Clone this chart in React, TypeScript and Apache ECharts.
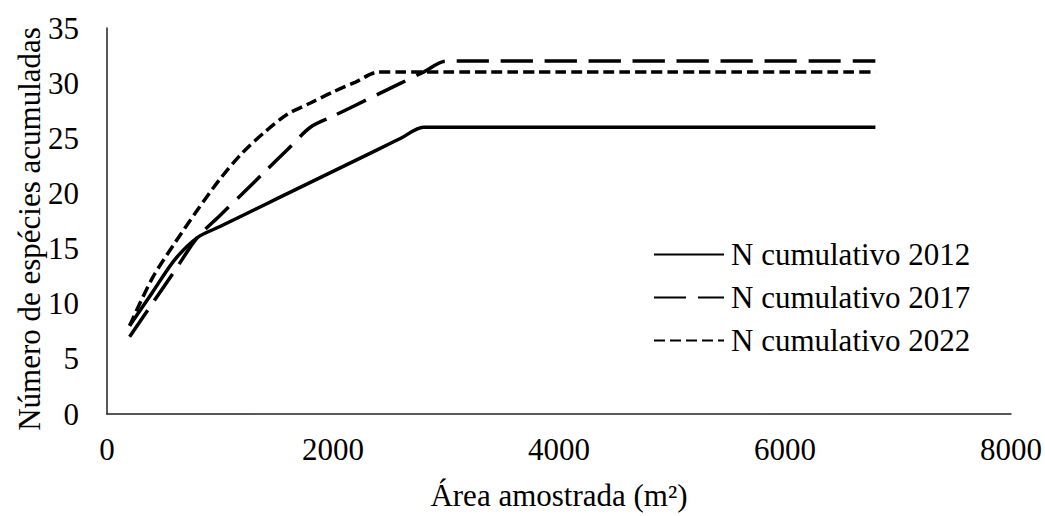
import React, { useEffect, useRef } from "react";
import * as echarts from "echarts";

const areas = [
  200, 400, 600, 800, 1000, 1200, 1400, 1600, 1800, 2000, 2200, 2400, 2600, 2800, 3000, 3200, 3400,
  3600, 3800, 4000, 4200, 4400, 4600, 4800, 5000, 5200, 5400, 5600, 5800, 6000, 6200, 6400, 6600, 6800,
];
const n2012 = [
  8, 11, 14, 16, 17, 18, 19, 20, 21, 22, 23, 24, 25, 26, 26, 26, 26,
  26, 26, 26, 26, 26, 26, 26, 26, 26, 26, 26, 26, 26, 26, 26, 26, 26,
];
const n2017 = [
  7, 10, 13, 16, 18, 20, 22, 24, 26, 27, 28, 29, 30, 31, 32, 32, 32,
  32, 32, 32, 32, 32, 32, 32, 32, 32, 32, 32, 32, 32, 32, 32, 32, 32,
];
const n2022 = [
  8, 12.3, 15.5, 18.5, 21.3, 23.7, 25.6, 27.2, 28.2, 29.2, 30.1, 31, 31, 31, 31, 31, 31,
  31, 31, 31, 31, 31, 31, 31, 31, 31, 31, 31, 31, 31, 31, 31, 31, 31,
];
const seriesNames = ["N cumulativo 2012", "N cumulativo 2017", "N cumulativo 2022"];
const xTitle = "Área amostrada (m²)";
const yTitle = "Número de espécies acumuladas";

const FONT = "Liberation Serif";

export default function App() {
  const ref = useRef<HTMLDivElement>(null);
  useEffect(() => {
    if (!ref.current) return;
    const chart = echarts.init(ref.current, undefined, { renderer: "svg" });
    const pair = (ys: number[]) => areas.map((x, i) => [x, ys[i]]);
    const dashes: any[] = ["solid", [32, 12], [11, 5]];
    const data = [n2012, n2017, n2022];
    chart.setOption({
      animation: false,
      backgroundColor: "#fff",
      textStyle: { fontFamily: FONT },
      grid: { left: 107, right: 33, top: 28, bottom: 96 },
      legend: {
        orient: "vertical",
        left: 653,
        top: 239,
        padding: 0,
        itemWidth: 70,
        itemHeight: 14,
        itemGap: 12,
        itemStyle: { opacity: 0 },
        textStyle: { fontFamily: FONT, fontSize: 31, color: "#000", padding: [0, 0, 0, 2] },
        data: seriesNames,
      },
      xAxis: {
        type: "value",
        min: 0,
        max: 8000,
        interval: 2000,
        axisLine: { show: true, lineStyle: { color: "#222", width: 1.5 } },
        axisTick: { show: false },
        splitLine: { show: false },
        axisLabel: {
          fontFamily: FONT,
          fontSize: 31,
          color: "#000",
          margin: 20,
          formatter: (v: number) => String(v),
        },
        name: xTitle,
        nameLocation: "middle",
        nameGap: 66,
        nameTextStyle: { fontFamily: FONT, fontSize: 31, color: "#000" },
      },
      yAxis: {
        type: "value",
        min: 0,
        max: 35,
        interval: 5,
        axisLine: { show: true, lineStyle: { color: "#222", width: 1.5 } },
        axisTick: { show: false },
        splitLine: { show: false },
        axisLabel: { fontFamily: FONT, fontSize: 31, color: "#000", margin: 28 },
      },
      graphic: [
        {
          type: "text",
          x: 29,
          y: 229,
          rotation: Math.PI / 2,
          style: {
            text: yTitle,
            fontFamily: FONT,
            fontSize: 31,
            fill: "#000",
            align: "center",
            verticalAlign: "middle",
          },
        },
      ],
      series: seriesNames.map((name, i) => ({
        name,
        type: "line",
        data: pair(data[i]),
        smooth: 0.3,
        symbol: "none",
        showSymbol: false,
        lineStyle: { color: "#000", width: 3.5, type: dashes[i], cap: "butt" },
        itemStyle: { color: "#000" },
      })),
    });
    return () => chart.dispose();
  }, []);
  return (
    <div
      ref={ref}
      style={{ position: "fixed", left: 0, top: 0, width: 1045, height: 516, background: "#fff" }}
    />
  );
}
